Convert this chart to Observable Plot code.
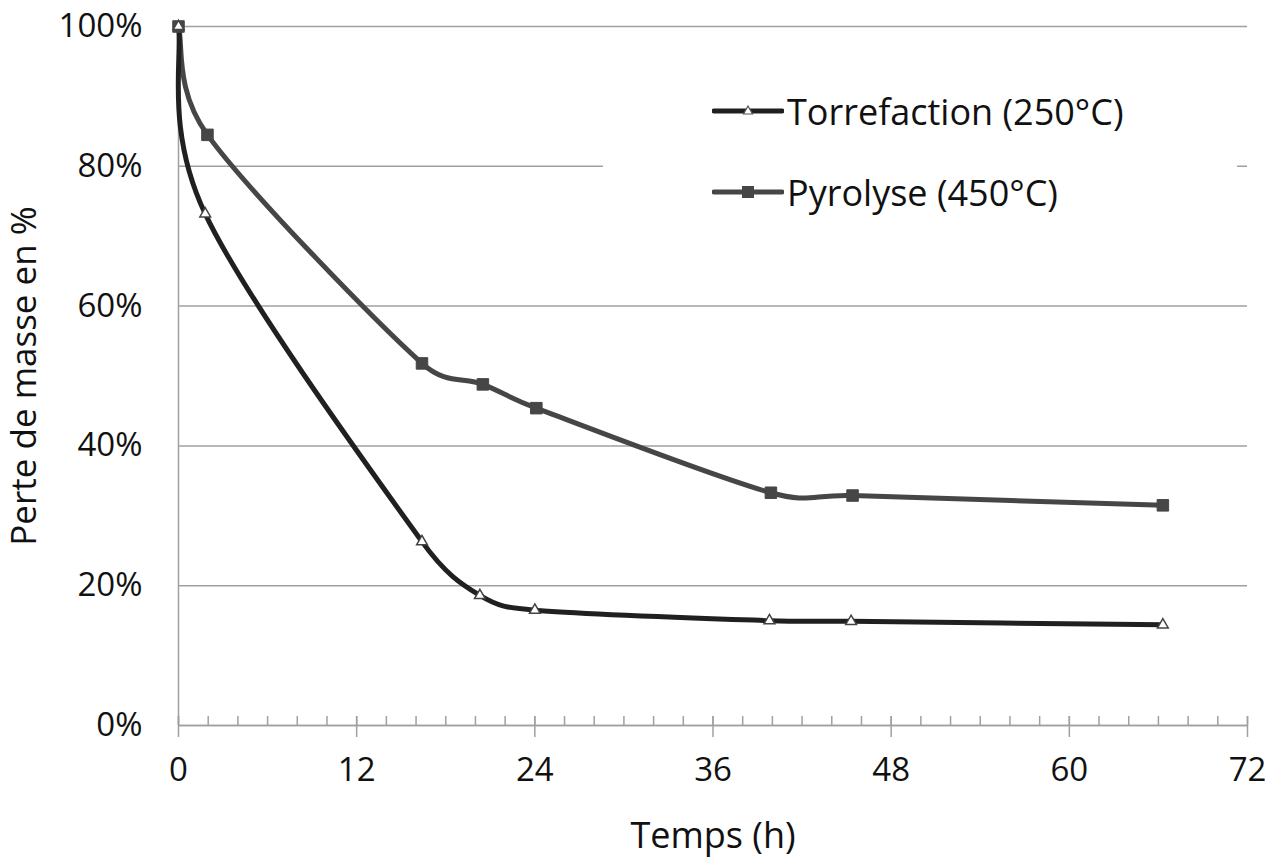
<!DOCTYPE html>
<html>
<head>
<meta charset="utf-8">
<script src="https://cdn.jsdelivr.net/npm/d3@7"></script>
<script src="https://cdn.jsdelivr.net/npm/@observablehq/plot@0.6"></script>
<style>
  html, body { margin: 0; padding: 0; background: #fff; }
  #wrap { position: relative; width: 1280px; height: 857px; font-family: "Open Sans", sans-serif; }
  #legend { position: absolute; left: 603px; top: 60px; width: 634px; height: 170px; background: #fff; }
  .item { position: absolute; left: 109px; height: 40px; display: flex; align-items: center; font-size: 36px; color: #111; }
  .item svg { margin-right: 3px; }
</style>
</head>
<body>
<div id="wrap">
  <div id="chart"></div>
  <div id="legend"></div>
</div>
<script>
// Data (hours, mass fraction)
const seriesNames = ["Torrefaction (250°C)", "Pyrolyse (450°C)"];
const torrefactionTime = [0, 1.8, 16.4, 20.3, 24, 39.8, 45.3, 66.3];
const torrefactionMass = [1.00, 0.732, 0.263, 0.186, 0.165, 0.150, 0.149, 0.144];
const pyrolyseTime = [0, 1.95, 16.4, 20.5, 24.1, 39.9, 45.4, 66.3];
const pyrolyseMass = [1.00, 0.845, 0.518, 0.488, 0.454, 0.333, 0.329, 0.315];
const xMajorTicks = [0, 12, 24, 36, 48, 60, 72];
const xMinorTicks = d3.range(0, 73, 2);
const yTicks = [0, 0.2, 0.4, 0.6, 0.8, 1.0];

const torr = torrefactionTime.map((t, i) => ({t, v: torrefactionMass[i]}));
const pyro = pyrolyseTime.map((t, i) => ({t, v: pyrolyseMass[i]}));

const gridColor = "#a0a0a0";
const torColor = "#202020";
const pyroColor = "#464646";

// Spreadsheet-style smoothed line (Bezier, 1/6 tangents, arm clamped to half segment)
function SmoothCurve(context) { this._context = context; }
SmoothCurve.prototype = {
  areaStart() { this._line = 0; },
  areaEnd() { this._line = NaN; },
  lineStart() { this._pts = []; },
  point(x, y) { this._pts.push([+x, +y]); },
  lineEnd() {
    const p = this._pts, c = this._context, n = p.length;
    if (!n) return;
    c.moveTo(p[0][0], p[0][1]);
    for (let i = 0; i < n - 1; i++) {
      const P0 = p[i - 1] || p[i], P1 = p[i], P2 = p[i + 1], P3 = p[i + 2] || p[i + 1];
      const half = Math.hypot(P2[0] - P1[0], P2[1] - P1[1]) / 2;
      let v1 = [(P2[0] - P0[0]) / 6, (P2[1] - P0[1]) / 6];
      let v2 = [(P3[0] - P1[0]) / 6, (P3[1] - P1[1]) / 6];
      const l1 = Math.hypot(v1[0], v1[1]), l2 = Math.hypot(v2[0], v2[1]);
      if (l1 > half) v1 = [v1[0] * half / l1, v1[1] * half / l1];
      if (l2 > half) v2 = [v2[0] * half / l2, v2[1] * half / l2];
      c.bezierCurveTo(P1[0] + v1[0], P1[1] + v1[1], P2[0] - v2[0], P2[1] - v2[1], P2[0], P2[1]);
    }
  }
};
const curveSmooth = (context) => new SmoothCurve(context);

const chart = Plot.plot({
  width: 1280,
  height: 857,
  marginLeft: 178,
  marginRight: 33,
  marginTop: 26,
  marginBottom: 132,
  style: {fontFamily: "Open Sans, sans-serif", fontSize: "33px", color: "#111", background: "#fff"},
  x: {domain: [0, 72]},
  y: {domain: [0, 1]},
  marks: [
    Plot.gridY(yTicks, {stroke: gridColor, strokeOpacity: 1, strokeWidth: 1.5}),
    Plot.ruleX([0], {stroke: gridColor, strokeWidth: 1.5}),
    Plot.ruleY([0], {stroke: gridColor, strokeWidth: 1.5}),
    Plot.axisY({ticks: yTicks, tickSize: 0, tickPadding: 36, tickFormat: d3.format(".0%"), label: null, fontSize: 33}),
    Plot.axisY({ticks: [], tickSize: 0, label: "Perte de masse en %", labelAnchor: "center", labelArrow: "none", labelOffset: 167, dy: 9, fontSize: 35}),
    Plot.axisX({ticks: xMinorTicks, tickSize: 9, dy: -9, text: null, label: null, stroke: gridColor, strokeOpacity: 1, strokeWidth: 1.5}),
    Plot.axisX({ticks: xMajorTicks, tickSize: 21, dy: -9, text: null, label: null, stroke: gridColor, strokeOpacity: 1, strokeWidth: 1.5}),
    Plot.axisX({ticks: xMajorTicks, tickSize: 0, tickPadding: 32, label: null, fontSize: 33}),
    Plot.axisX({ticks: [], tickSize: 0, label: "Temps (h)", labelAnchor: "center", labelArrow: "none", labelOffset: 122, fontSize: 36}),
    Plot.line(pyro, {x: "t", y: "v", curve: curveSmooth, stroke: pyroColor, strokeWidth: 5}),
    Plot.line(torr, {x: "t", y: "v", curve: curveSmooth, stroke: torColor, strokeWidth: 5}),
    Plot.dot(pyro, {x: "t", y: "v", symbol: "square", r: 6.5, fill: pyroColor, stroke: pyroColor, strokeWidth: 1}),
    Plot.dot(torr, {x: "t", y: "v", symbol: "triangle", r: 4, fill: "#fff", stroke: "#444", strokeWidth: 1.5})
  ]
});
document.getElementById("chart").appendChild(chart);

// Legend
const legend = document.getElementById("legend");
const items = [
  {name: seriesNames[0], color: torColor, marker: "tri", top: 31},
  {name: seriesNames[1], color: pyroColor, marker: "sq", top: 112}
];
items.forEach(it => {
  const div = document.createElement("div");
  div.className = "item";
  div.style.top = it.top + "px";
  const ns = "http://www.w3.org/2000/svg";
  const svg = document.createElementNS(ns, "svg");
  svg.setAttribute("width", 72); svg.setAttribute("height", 40);
  const ln = document.createElementNS(ns, "line");
  ln.setAttribute("x1", 2); ln.setAttribute("x2", 70); ln.setAttribute("y1", 20); ln.setAttribute("y2", 20);
  ln.setAttribute("stroke", it.color); ln.setAttribute("stroke-width", 5); ln.setAttribute("stroke-linecap", "round");
  svg.appendChild(ln);
  if (it.marker === "tri") {
    const p = document.createElementNS(ns, "path");
    p.setAttribute("d", "M36,15 L40.5,23 L31.5,23 Z");
    p.setAttribute("fill", "#fff"); p.setAttribute("stroke", "#555"); p.setAttribute("stroke-width", 1.2);
    svg.appendChild(p);
  } else {
    const r = document.createElementNS(ns, "rect");
    r.setAttribute("x", 30); r.setAttribute("y", 14); r.setAttribute("width", 12); r.setAttribute("height", 12);
    r.setAttribute("fill", it.color);
    svg.appendChild(r);
  }
  div.appendChild(svg);
  const span = document.createElement("span");
  span.textContent = it.name;
  div.appendChild(span);
  legend.appendChild(div);
});
</script>
</body>
</html>
